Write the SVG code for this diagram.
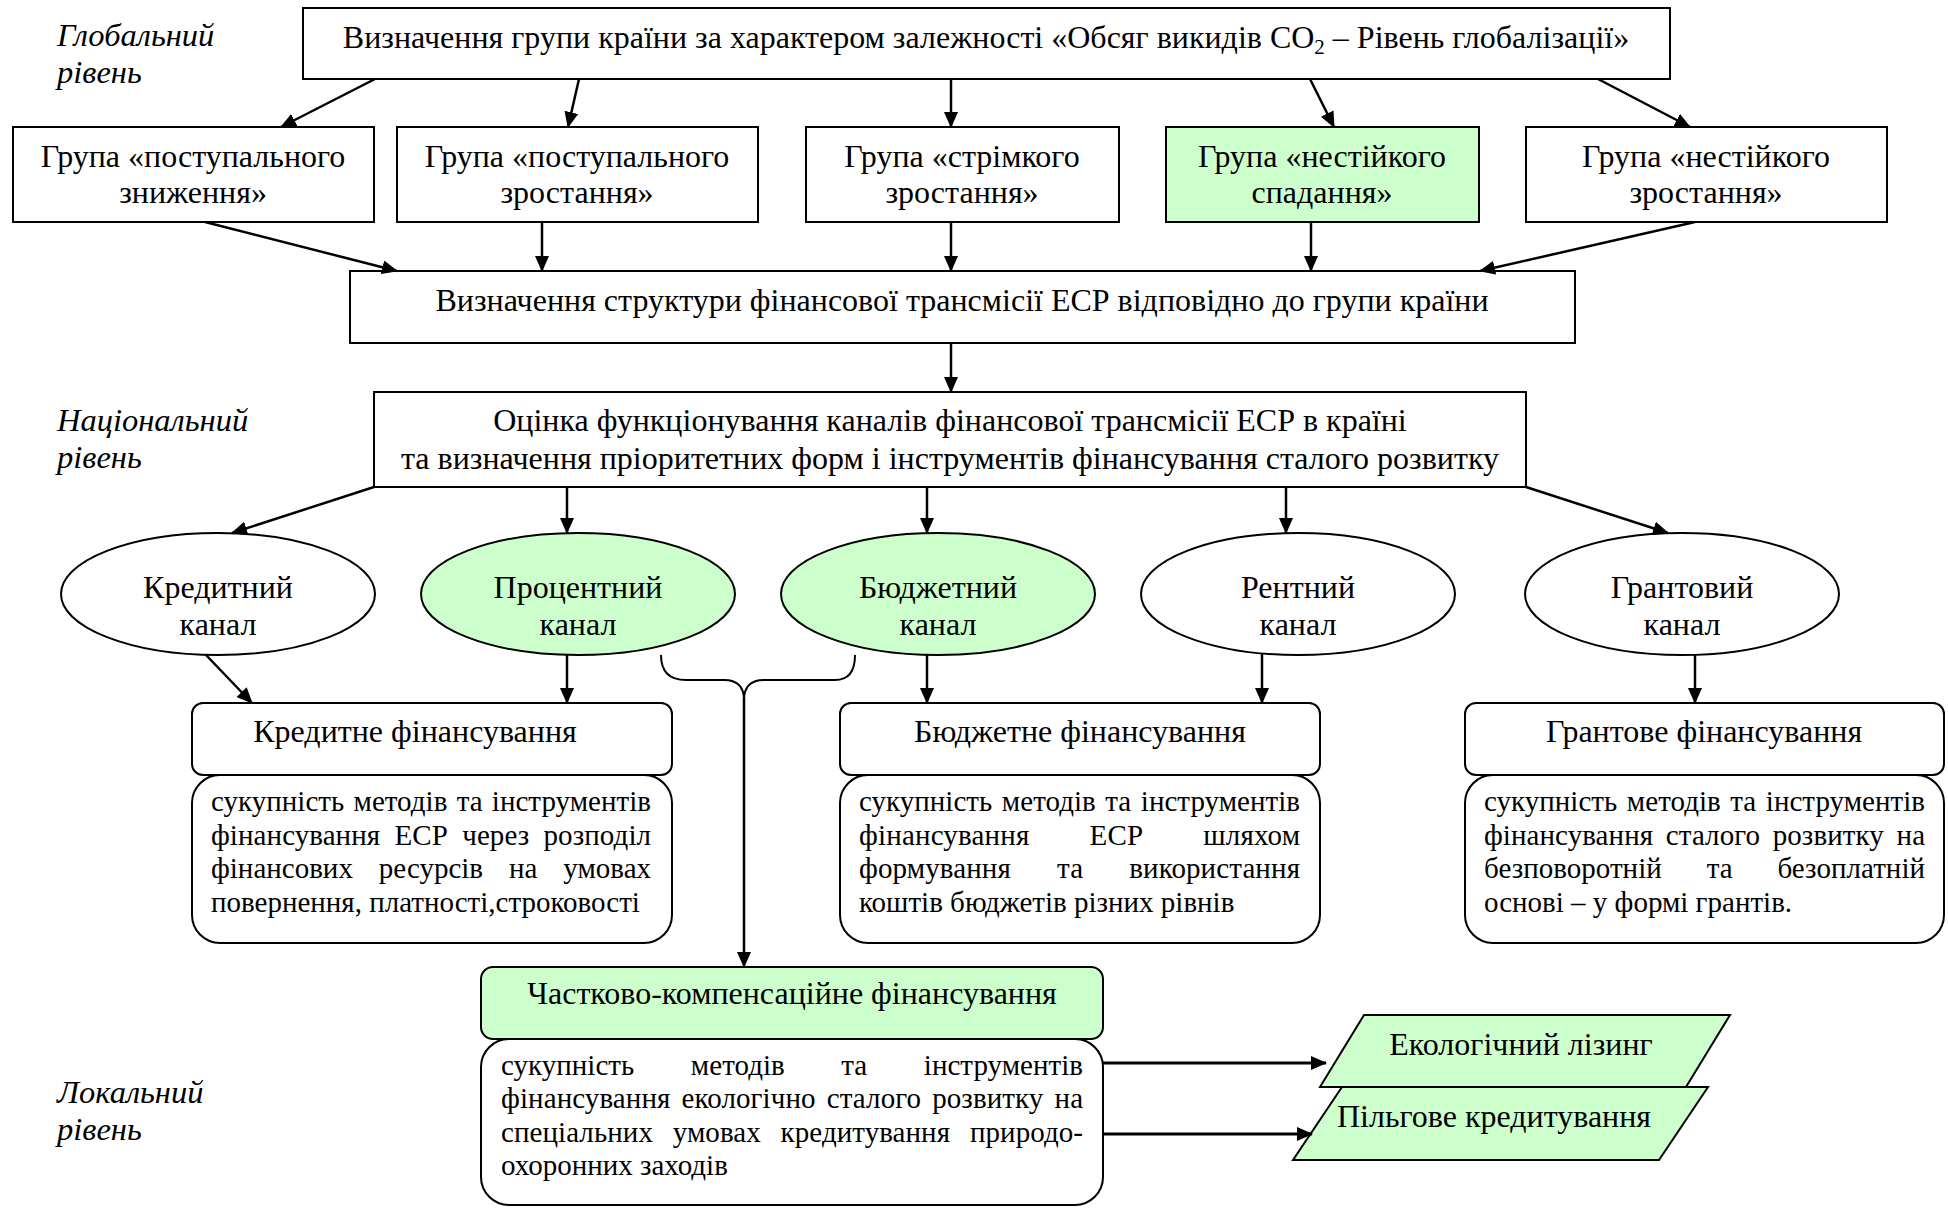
<svg xmlns="http://www.w3.org/2000/svg" width="1948" height="1208" viewBox="0 0 1948 1208">
<style>
.box{fill:#fff;stroke:#000;stroke-width:2}
.green{fill:#ccffcc}
.t{font-family:"Liberation Serif","Times New Roman",serif;font-size:32px;fill:#000}
.c{text-anchor:middle}
.d{font-size:29px}
.lbl{font-style:italic;font-size:32.5px}
.conn line,.conn path{stroke:#000;stroke-width:2.5;fill:none}
.conn .thick{stroke-width:3}
</style>
<defs>
<marker id="ah" markerUnits="userSpaceOnUse" markerWidth="16" markerHeight="14" refX="15" refY="7" orient="auto"><path d="M0,0 L16,7 L0,14 z" fill="#000"/></marker>
</defs>
<rect width="1948" height="1208" fill="#fff"/>

<g id="levels">
<text class="t lbl" x="57" y="46">Глобальний</text>
<text class="t lbl" x="57" y="83">рівень</text>
<text class="t lbl" x="57" y="431">Національний</text>
<text class="t lbl" x="57" y="468">рівень</text>
<text class="t lbl" x="57" y="1103">Локальний</text>
<text class="t lbl" x="57" y="1140">рівень</text>
</g>

<g id="n-top">
<rect class="box" x="303" y="8" width="1367" height="71"/>
<text class="t c" x="986" y="48">Визначення групи країни за характером залежності «Обсяг викидів CO<tspan font-size="21" dy="6">2</tspan><tspan dy="-6"> – Рівень глобалізації»</tspan></text>
</g>

<g id="n-g1">
<rect class="box" x="13" y="127" width="361" height="95"/>
<text class="t c" x="193" y="167">Група «поступального</text>
<text class="t c" x="193" y="203">зниження»</text>
</g>
<g id="n-g2">
<rect class="box" x="397" y="127" width="361" height="95"/>
<text class="t c" x="577" y="167">Група «поступального</text>
<text class="t c" x="577" y="203">зростання»</text>
</g>
<g id="n-g3">
<rect class="box" x="806" y="127" width="313" height="95"/>
<text class="t c" x="962" y="167">Група «стрімкого</text>
<text class="t c" x="962" y="203">зростання»</text>
</g>
<g id="n-g4">
<rect class="box green" x="1166" y="127" width="313" height="95"/>
<text class="t c" x="1322" y="167">Група «нестійкого</text>
<text class="t c" x="1322" y="203">спадання»</text>
</g>
<g id="n-g5">
<rect class="box" x="1526" y="127" width="361" height="95"/>
<text class="t c" x="1706" y="167">Група «нестійкого</text>
<text class="t c" x="1706" y="203">зростання»</text>
</g>

<g id="n-struct">
<rect class="box" x="350" y="271" width="1225" height="72"/>
<text class="t c" x="962" y="311">Визначення структури фінансової трансмісії ЕСР відповідно до групи країни</text>
</g>

<g id="n-eval">
<rect class="box" x="374" y="392" width="1152" height="95"/>
<text class="t c" x="950" y="431">Оцінка функціонування каналів фінансової трансмісії ЕСР в країні</text>
<text class="t c" x="950" y="469">та визначення пріоритетних форм і інструментів фінансування сталого розвитку</text>
</g>

<g id="n-ch1">
<ellipse class="box" cx="218" cy="594" rx="157" ry="61"/>
<text class="t c" x="218" y="598">Кредитний</text>
<text class="t c" x="218" y="635">канал</text>
</g>
<g id="n-ch2">
<ellipse class="box green" cx="578" cy="594" rx="157" ry="61"/>
<text class="t c" x="578" y="598">Процентний</text>
<text class="t c" x="578" y="635">канал</text>
</g>
<g id="n-ch3">
<ellipse class="box green" cx="938" cy="594" rx="157" ry="61"/>
<text class="t c" x="938" y="598">Бюджетний</text>
<text class="t c" x="938" y="635">канал</text>
</g>
<g id="n-ch4">
<ellipse class="box" cx="1298" cy="594" rx="157" ry="61"/>
<text class="t c" x="1298" y="598">Рентний</text>
<text class="t c" x="1298" y="635">канал</text>
</g>
<g id="n-ch5">
<ellipse class="box" cx="1682" cy="594" rx="157" ry="61"/>
<text class="t c" x="1682" y="598">Грантовий</text>
<text class="t c" x="1682" y="635">канал</text>
</g>

<g id="n-credit">
<rect class="box" x="192" y="703" width="480" height="72" rx="11"/>
<text class="t c" x="415" y="742">Кредитне фінансування</text>
<rect class="box" x="192" y="775" width="480" height="168" rx="28"/>
<text class="t d" x="211" y="811" word-spacing="2" textLength="440" lengthAdjust="spacing">сукупність методів та інструментів</text>
<text class="t d" x="211" y="844.5" word-spacing="7" textLength="440" lengthAdjust="spacing">фінансування ЕСР через розподіл</text>
<text class="t d" x="211" y="878" word-spacing="18.7" textLength="440" lengthAdjust="spacing">фінансових ресурсів на умовах</text>
<text class="t d" x="211" y="911.5">повернення, платності,строковості</text>
</g>

<g id="n-budget">
<rect class="box" x="840" y="703" width="480" height="72" rx="11"/>
<text class="t c" x="1080" y="742">Бюджетне фінансування</text>
<rect class="box" x="840" y="775" width="480" height="168" rx="28"/>
<text class="t d" x="859" y="811" word-spacing="2.3" textLength="441" lengthAdjust="spacing">сукупність методів та інструментів</text>
<text class="t d" x="859" y="844.5" word-spacing="52.6" textLength="441" lengthAdjust="spacing">фінансування ЕСР шляхом</text>
<text class="t d" x="859" y="878" word-spacing="38.7" textLength="441" lengthAdjust="spacing">формування та використання</text>
<text class="t d" x="859" y="911.5">коштів бюджетів різних рівнів</text>
</g>

<g id="n-grant">
<rect class="box" x="1465" y="703" width="479" height="72" rx="11"/>
<text class="t c" x="1704" y="742">Грантове фінансування</text>
<rect class="box" x="1465" y="775" width="479" height="168" rx="28"/>
<text class="t d" x="1484" y="811" word-spacing="2.3" textLength="441" lengthAdjust="spacing">сукупність методів та інструментів</text>
<text class="t d" x="1484" y="844.5" word-spacing="5.4" textLength="441" lengthAdjust="spacing">фінансування сталого розвитку на</text>
<text class="t d" x="1484" y="878" word-spacing="37.6" textLength="441" lengthAdjust="spacing">безповоротній та безоплатній</text>
<text class="t d" x="1484" y="911.5">основі – у формі грантів.</text>
</g>

<g id="n-partial">
<rect class="box green" x="481" y="967" width="622" height="72" rx="12"/>
<text class="t c" x="792" y="1004">Частково-компенсаційне фінансування</text>
<rect class="box" x="481" y="1039" width="622" height="166" rx="28"/>
<text class="t d" x="501" y="1075" word-spacing="49.3" textLength="582" lengthAdjust="spacing">сукупність методів та інструментів</text>
<text class="t d" x="501" y="1108" word-spacing="3.7" textLength="582" lengthAdjust="spacing">фінансування екологічно сталого розвитку на</text>
<text class="t d" x="501" y="1142" word-spacing="12.5" textLength="582" lengthAdjust="spacing">спеціальних умовах кредитування природо-</text>
<text class="t d" x="501" y="1175">охоронних заходів</text>
</g>

<g id="n-leasing">
<polygon class="box green" points="1364,1015 1730,1015 1686,1087 1320,1087"/>
<text class="t c" x="1521" y="1055">Екологічний лізинг</text>
</g>
<g id="n-loan">
<polygon class="box green" points="1342,1087 1708,1087 1659,1160 1293,1160"/>
<text class="t c" x="1494" y="1127">Пільгове кредитування</text>
</g>

<g id="connectors" class="conn">
<line x1="375" y1="79" x2="281" y2="127" marker-end="url(#ah)"/>
<line x1="579" y1="79" x2="568" y2="127" marker-end="url(#ah)"/>
<line x1="951" y1="79" x2="951" y2="127" marker-end="url(#ah)"/>
<line x1="1310" y1="79" x2="1334" y2="127" marker-end="url(#ah)"/>
<line x1="1598" y1="79" x2="1690" y2="127" marker-end="url(#ah)"/>

<line x1="205" y1="222" x2="397" y2="271" marker-end="url(#ah)"/>
<line x1="542" y1="222" x2="542" y2="271" marker-end="url(#ah)"/>
<line x1="951" y1="222" x2="951" y2="271" marker-end="url(#ah)"/>
<line x1="1311" y1="222" x2="1311" y2="271" marker-end="url(#ah)"/>
<line x1="1695" y1="222" x2="1480" y2="271" marker-end="url(#ah)"/>

<line x1="951" y1="343" x2="951" y2="392" marker-end="url(#ah)"/>

<line x1="374" y1="487" x2="232" y2="533" marker-end="url(#ah)"/>
<line x1="567" y1="487" x2="567" y2="533" marker-end="url(#ah)"/>
<line x1="927" y1="487" x2="927" y2="533" marker-end="url(#ah)"/>
<line x1="1286" y1="487" x2="1286" y2="533" marker-end="url(#ah)"/>
<line x1="1526" y1="487" x2="1668" y2="533" marker-end="url(#ah)"/>

<line x1="206" y1="655" x2="252" y2="703" marker-end="url(#ah)"/>
<line x1="567" y1="655" x2="567" y2="703" marker-end="url(#ah)"/>
<line x1="927" y1="655" x2="927" y2="703" marker-end="url(#ah)"/>
<line x1="1262" y1="653" x2="1262" y2="703" marker-end="url(#ah)"/>
<line x1="1695" y1="655" x2="1695" y2="703" marker-end="url(#ah)"/>

<path d="M661,655 Q661,680 686,680 L724,680 Q744,680 744,700 Q744,680 764,680 L835,680 Q855,680 855,655" style="stroke-width:2"/>
<line x1="744" y1="698" x2="744" y2="967" marker-end="url(#ah)"/>

<line class="thick" x1="1103" y1="1063" x2="1326" y2="1063" marker-end="url(#ah)"/>
<line class="thick" x1="1103" y1="1134" x2="1312" y2="1134" marker-end="url(#ah)"/>
</g>
</svg>
